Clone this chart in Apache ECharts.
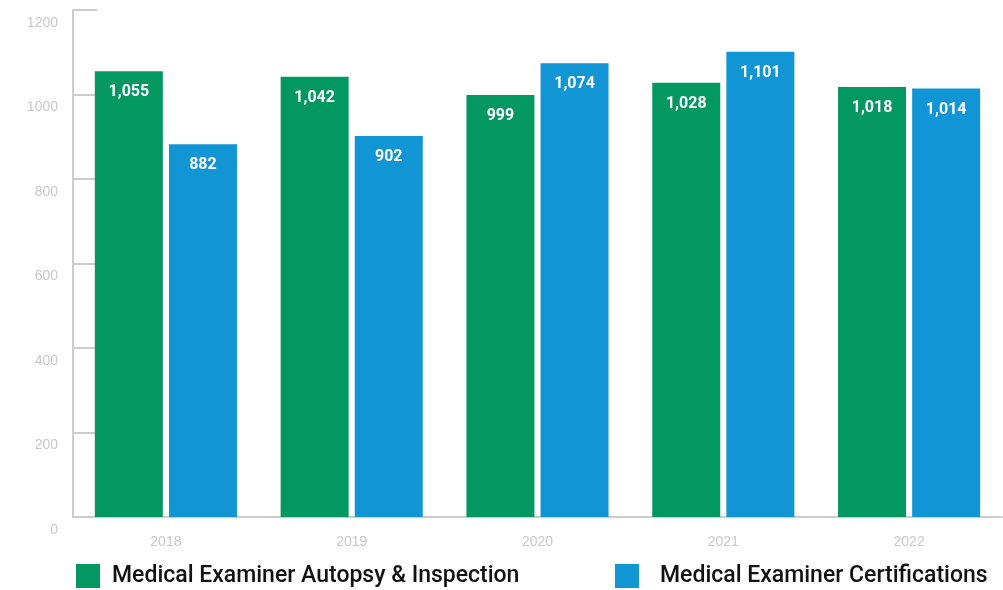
<!DOCTYPE html>
<html>
<head>
<meta charset="utf-8">
<script src="https://cdn.jsdelivr.net/npm/echarts@6/dist/echarts.min.js"></script>
<style>
  html, body { margin: 0; padding: 0; background: #fff; }
  #chart { width: 1003px; height: 590px; }
</style>
</head>
<body>
<div id="chart"></div>
<script>
var years = ['2018', '2019', '2020', '2021', '2022'];
var autopsy = [1055, 1042, 999, 1028, 1018];
var certifications = [882, 902, 1074, 1101, 1014];
var yTicks = [0, 200, 400, 600, 800, 1000, 1200];

var chartDom = document.getElementById('chart');
var myChart = echarts.init(chartDom);
var option;

var labelStyle = {
    show: true,
    position: 'insideTop',
    distance: 13,
    color: '#fff',
    fontFamily: 'Roboto, sans-serif',
    fontWeight: 'bold',
    fontSize: 16,
    formatter: function (p) {
        return p.value.toLocaleString('en-US');
    }
};

function legendText(gap) {
    return {
        color: '#111',
        fontFamily: 'Roboto, sans-serif',
        fontWeight: 500,
        fontSize: 23,
        padding: [4, 0, 0, gap]
    };
}

option = {
    animation: false,
    grid: {
        left: 73,
        right: 1,
        top: 10,
        bottom: 73
    },
    legend: [
        {
            data: ['Medical Examiner Autopsy & Inspection'],
            left: 76,
            top: 564,
            padding: 0,
            itemWidth: 24,
            itemHeight: 24,
            icon: 'rect',
            textStyle: legendText(7)
        },
        {
            data: ['Medical Examiner Certifications'],
            left: 615,
            top: 564,
            padding: 0,
            itemWidth: 24,
            itemHeight: 24,
            icon: 'rect',
            textStyle: legendText(16)
        }
    ],
    xAxis: {
        type: 'category',
        data: years,
        axisLine: { lineStyle: { color: '#cccccc', width: 2 } },
        axisTick: { inside: true, length: 13, lineStyle: { color: '#cccccc', width: 2 } },
        axisLabel: {
            color: '#c8c8c8',
            fontFamily: 'Liberation Sans, sans-serif',
            fontSize: 14,
            margin: 18
        }
    },
    yAxis: {
        type: 'value',
        min: yTicks[0],
        max: yTicks[yTicks.length - 1],
        interval: 200,
        splitLine: { show: false },
        axisLine: { show: true, lineStyle: { color: '#cccccc', width: 2 } },
        axisTick: { show: true, inside: true, length: 24, lineStyle: { color: '#cccccc', width: 2 } },
        axisLabel: {
            color: '#c8c8c8',
            fontFamily: 'Liberation Sans, sans-serif',
            fontSize: 14,
            margin: 15,
            verticalAlign: 'top',
            padding: [6, 0, 0, 0],
            formatter: function (v) { return String(v); }
        }
    },
    series: [
        {
            name: 'Medical Examiner Autopsy & Inspection',
            type: 'bar',
            data: autopsy,
            barWidth: 68,
            barGap: '9%',
            itemStyle: { color: '#039762' },
            label: labelStyle
        },
        {
            name: 'Medical Examiner Certifications',
            type: 'bar',
            data: certifications,
            barWidth: 68,
            barGap: '9%',
            itemStyle: { color: '#1195d4' },
            label: labelStyle
        }
    ]
};

option && myChart.setOption(option);
</script>
</body>
</html>
